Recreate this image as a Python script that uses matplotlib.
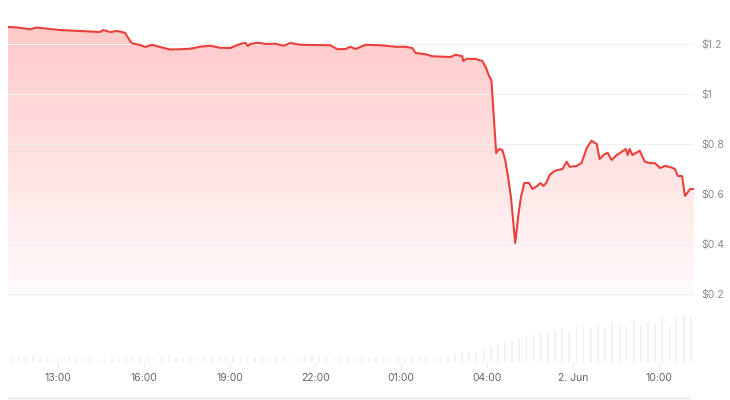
import numpy as np
import matplotlib
matplotlib.use("Agg")
import matplotlib.pyplot as plt
from matplotlib.colors import LinearSegmentedColormap
from matplotlib.lines import Line2D

plt.rcParams['font.family'] = ['Inter', 'DejaVu Sans']

# price trace (local time, crosses midnight)
times = ["11:15", "11:35", "12:01", "12:16", "12:43", "13:04", "13:46", "14:28", "14:35", "14:49",
         "15:04", "15:14", "15:21", "15:27", "15:35", "15:52", "16:03", "16:17", "16:34", "16:55",
         "17:16", "17:37", "17:58", "18:19", "18:40", "19:01", "19:22", "19:33", "19:38", "19:43",
         "20:00", "20:15", "20:36", "20:53", "21:07", "21:28", "22:00", "22:31", "22:46", "23:03",
         "23:13", "23:24", "23:34", "23:45", "00:16", "00:48", "01:09", "01:23", "01:30", "01:51",
         "02:05", "02:43", "02:54", "03:08", "03:10", "03:17", "03:36", "03:50", "03:58", "04:04",
         "04:09", "04:19", "04:25", "04:32", "04:38", "04:44", "04:50", "04:59", "05:05", "05:11",
         "05:18", "05:28", "05:35", "05:45", "05:52", "05:58", "06:04", "06:11", "06:22", "06:38",
         "06:47", "06:53", "07:08", "07:18", "07:29", "07:39", "07:50", "07:56", "08:04", "08:13",
         "08:21", "08:32", "08:38", "08:51", "08:55", "08:59", "09:05", "09:20", "09:31", "09:41",
         "09:52", "10:03", "10:13", "10:24", "10:34", "10:40", "10:49", "10:55", "11:06", "11:14"]
prices = [1.268, 1.266, 1.259, 1.266, 1.260, 1.256, 1.252, 1.248, 1.256, 1.248,
          1.252, 1.248, 1.244, 1.224, 1.203, 1.196, 1.188, 1.197, 1.188, 1.178,
          1.179, 1.181, 1.189, 1.193, 1.185, 1.184, 1.200, 1.205, 1.192, 1.200,
          1.205, 1.200, 1.201, 1.193, 1.204, 1.197, 1.196, 1.195, 1.179, 1.180,
          1.189, 1.180, 1.188, 1.197, 1.195, 1.189, 1.189, 1.184, 1.164, 1.159,
          1.151, 1.148, 1.157, 1.151, 1.132, 1.141, 1.140, 1.132, 1.104, 1.072,
          1.056, 0.764, 0.780, 0.776, 0.736, 0.668, 0.588, 0.404, 0.508, 0.588,
          0.644, 0.644, 0.620, 0.632, 0.644, 0.632, 0.644, 0.676, 0.693, 0.700,
          0.729, 0.709, 0.712, 0.724, 0.784, 0.813, 0.800, 0.740, 0.756, 0.765,
          0.736, 0.756, 0.763, 0.780, 0.756, 0.780, 0.756, 0.773, 0.729, 0.724,
          0.723, 0.704, 0.712, 0.708, 0.700, 0.672, 0.672, 0.592, 0.620, 0.620]

# volume, 15 minute buckets starting 11:15 (relative units)
volume_start = 11.25
volumes = [5, 6, 5,
           6, 5, 4, 6, 5, 6, 3, 3, 4, 3, 3, 4, 3, 4, 5, 4,
           5, 6, 5, 6, 4, 5, 6, 5, 5, 4, 5, 6, 5, 6, 5, 4,
           5, 4, 6, 5, 4, 5, 6, 7, 6, 5, 6, 4, 5, 4, 4, 5,
           4, 5, 4, 5, 4, 4, 5, 6, 5, 6, 7, 8, 9, 10, 11, 13,
           15, 17, 19, 21, 24, 26, 28, 29, 28, 31, 33, 30, 35, 38, 34, 36,
           33, 40, 37, 38, 42, 36, 40, 38, 44, 39, 45, 47,
           46]

tick_hours = [13, 16, 19, 22, 25, 28, 31, 34]
tick_labels = ["13:00", "16:00", "19:00", "22:00", "01:00", "04:00", "2. Jun", "10:00"]
price_ticks = [0.2, 0.4, 0.6, 0.8, 1.0, 1.2]
price_labels = ["$0.2", "$0.4", "$0.6", "$0.8", "$1", "$1.2"]


def to_hours(ts):
    out = []
    offset = 0
    prev = -1
    for t in ts:
        h, m = t.split(":")
        v = int(h) + int(m) / 60
        if v + offset < prev:
            offset += 24
        v += offset
        out.append(v)
        prev = v
    return np.array(out)


def main():
    x = to_hours(times)
    y = np.array(prices)
    xmin, xmax = x[0], x[-1]

    fig = plt.figure(figsize=(7.3, 4), dpi=100)
    L = 8 / 730
    R = 694 / 730
    ax = fig.add_axes([L, 104 / 400, R - L, 286 / 400])
    axv = fig.add_axes([L, 38 / 400, R - L, 62 / 400])

    line_col = "#e8413c"
    ymin, ymax = 0.192, 1.336

    # gradient fill under the line
    cmap = LinearSegmentedColormap.from_list("g", [(1, 0.3, 0.3, 0.02), (1, 0.3, 0.3, 0.32)])
    grad = np.linspace(0, 1, 256).reshape(-1, 1)
    im = ax.imshow(grad, cmap=cmap, aspect="auto", origin="lower",
                   extent=[xmin, xmax, ymin, ymax], zorder=1)
    poly = ax.fill_between(x, y, ymin, color="none", lw=0)
    clip = poly.get_paths()[0]
    im.set_clip_path(clip, transform=ax.transData)

    ax.plot(x, y, color=line_col, lw=1.5, zorder=3, solid_joinstyle="round")

    ax.set_xlim(xmin, xmax)
    ax.set_ylim(ymin, ymax)
    ax.set_yticks(price_ticks)
    ax.set_yticklabels(price_labels)
    ax.yaxis.tick_right()
    ax.tick_params(axis="y", length=0, pad=5, labelsize=7.5, labelcolor="#8a8a8a")
    ax.set_xticks([])
    ax.grid(axis="y", color="#f0f0f0", lw=0.8, zorder=0)
    for s in ax.spines.values():
        s.set_visible(False)

    # volume bars
    vx = volume_start + 0.25 * np.arange(len(volumes)) + 0.125
    axv.bar(vx, volumes, width=0.06, color="#f1f1f1", zorder=1)
    axv.set_xlim(xmin, xmax)
    axv.set_ylim(0, 62)
    axv.set_yticks([])
    axv.set_xticks(tick_hours)
    axv.set_xticklabels(tick_labels)
    axv.tick_params(axis="x", length=4, color="#ececec", labelsize=7.5,
                    labelcolor="#666666", pad=4)
    for s in axv.spines.values():
        s.set_visible(False)

    fig.add_artist(Line2D([L, 690 / 730], [2 / 400, 2 / 400], color="#e6e6e6", lw=1))

    fig.savefig("out.png", dpi=100, facecolor="white")


if __name__ == "__main__":
    main()
